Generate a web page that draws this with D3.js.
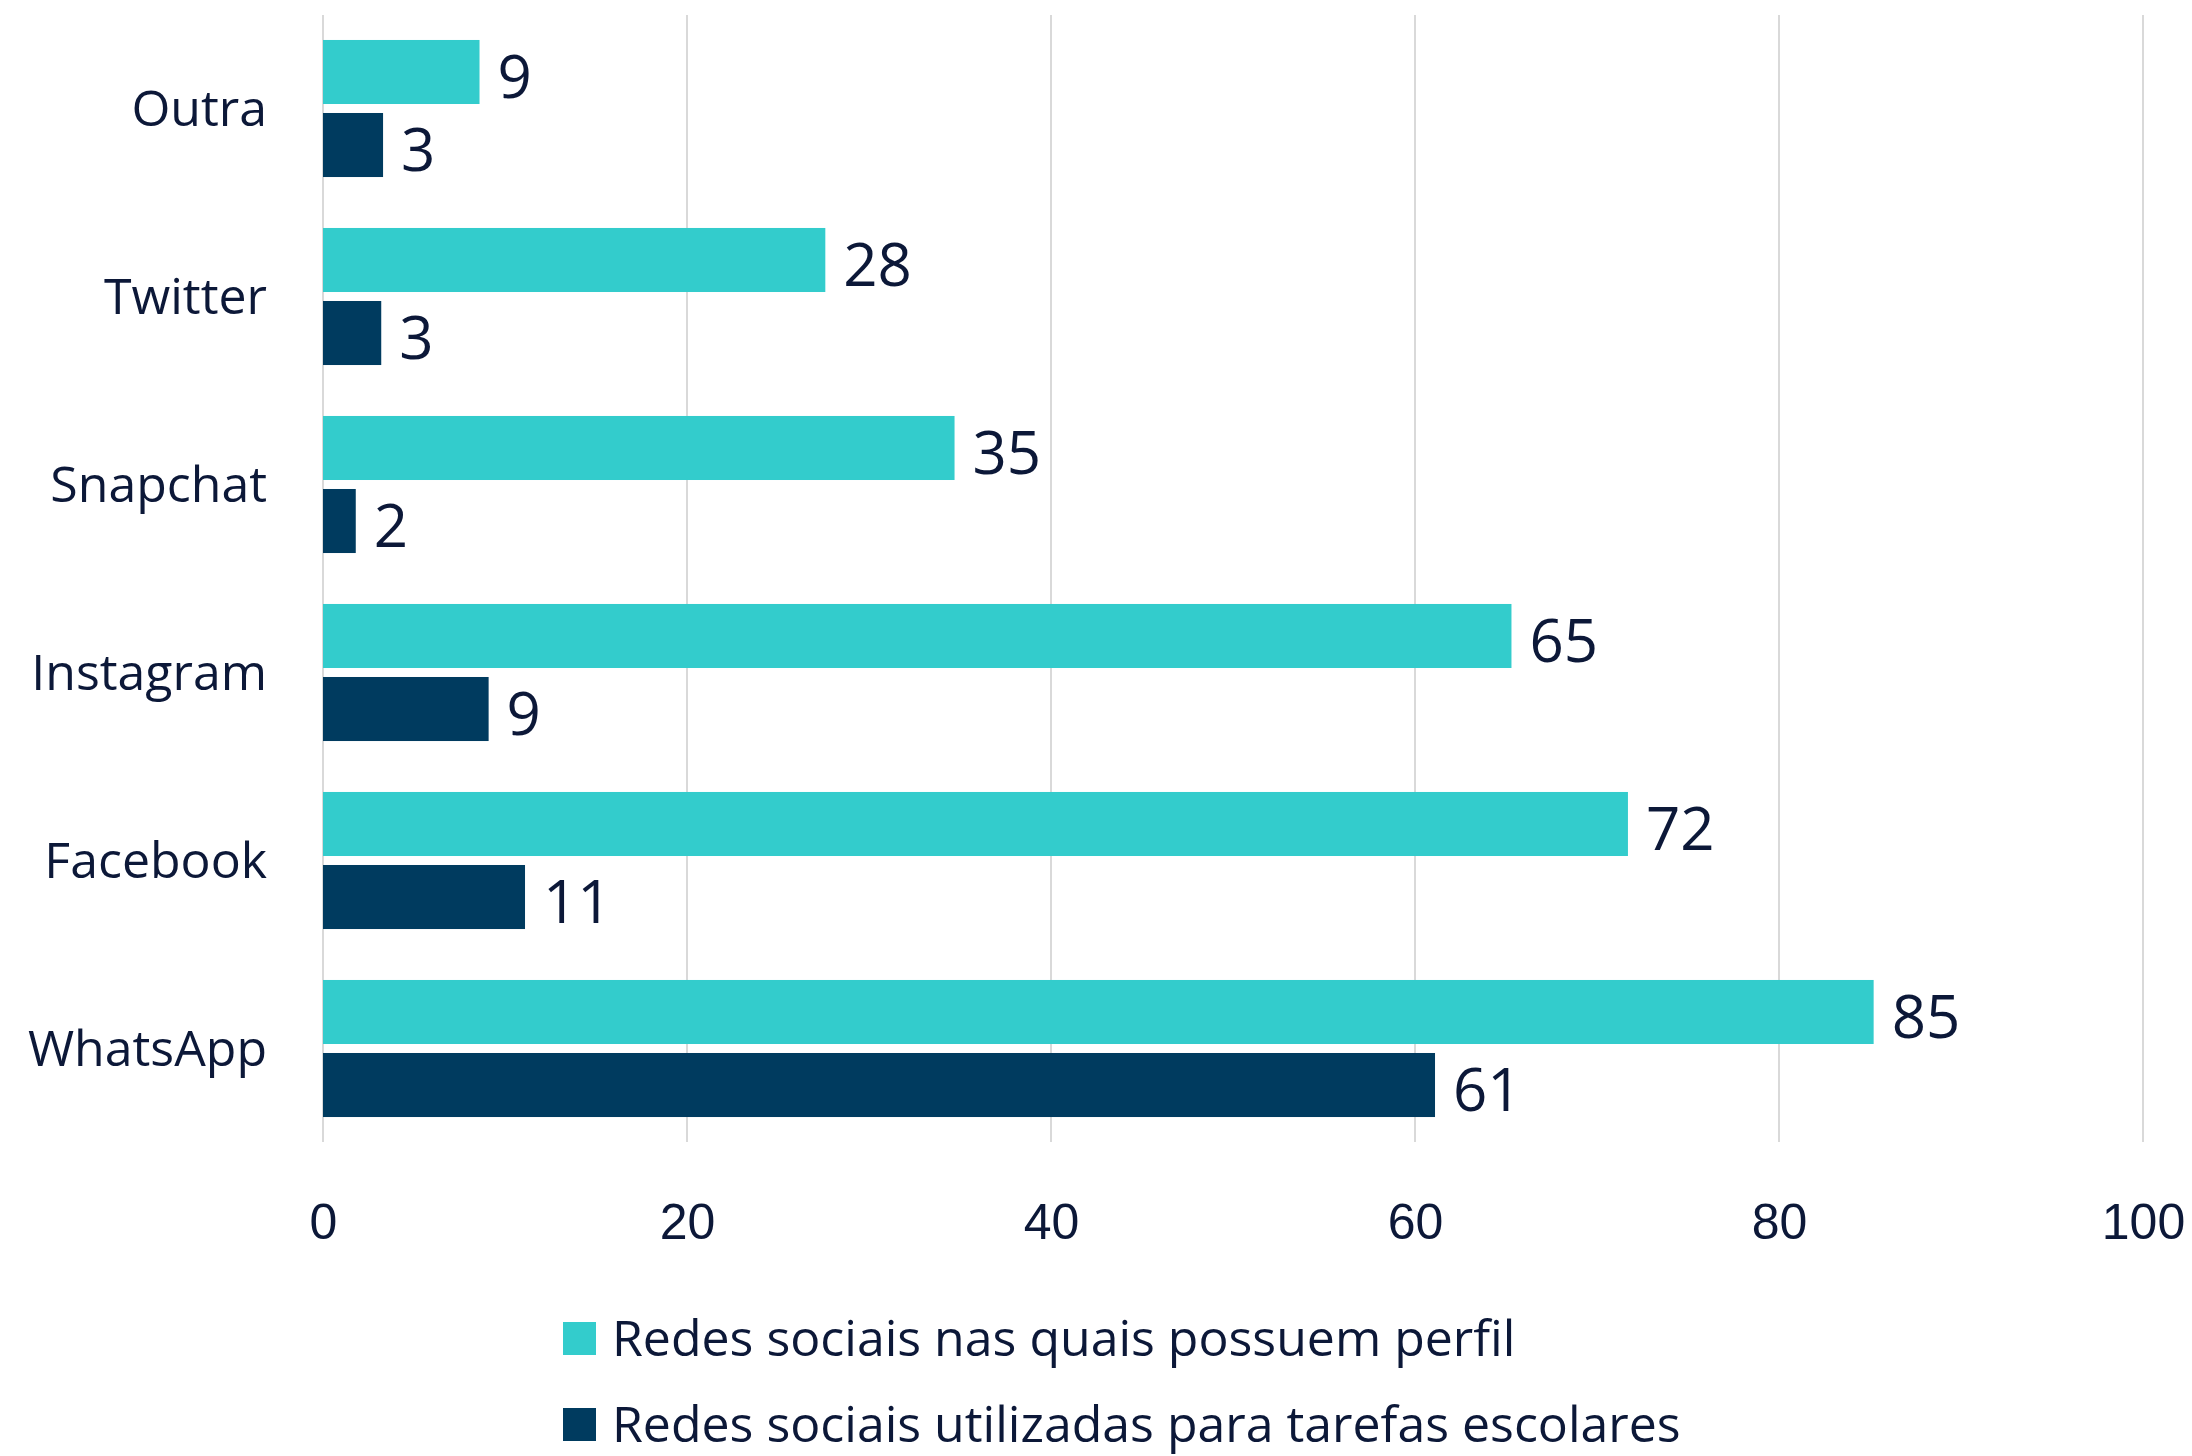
<!DOCTYPE html>
<html>
<head>
<meta charset="utf-8">
<script src="https://cdn.jsdelivr.net/npm/d3@7"></script>
<style>
  body { margin: 0; background: #fff; }
  svg { display: block; font-family: "Segoe UI", "Open Sans", sans-serif; }
</style>
</head>
<body>
<div id="vis-container"></div>
<script>
// categories top to bottom
var categories = ["Outra", "Twitter", "Snapchat", "Instagram", "Facebook", "WhatsApp"];
var seriesNames = [
  "Redes sociais nas quais possuem perfil",
  "Redes sociais utilizadas para tarefas escolares"
];
// bar lengths (labels show them rounded)
var perfil = [8.6, 27.6, 34.7, 65.3, 71.7, 85.2];
var tarefas = [3.3, 3.2, 1.8, 9.1, 11.1, 61.1];
var ticks = [0, 20, 40, 60, 80, 100];
var colors = ["#33cccc", "#003b5f"];
var textColor = "#0c1838";

var width = 2192, height = 1456;

var svg = d3.select("#vis-container").append("svg")
  .attr("width", width)
  .attr("height", height);

var x = d3.scaleLinear().domain([0, 100]).range([323, 2143]);

var y = d3.scaleBand()
  .domain(categories)
  .range([14.5, 1142.5])
  .paddingInner(0.271)
  .paddingOuter(0.1355);

var ySub = d3.scaleBand()
  .domain([0, 1])
  .range([0, y.bandwidth()])
  .paddingInner(0.123);

// gridlines
svg.append("g")
  .selectAll("line")
  .data(ticks)
  .enter()
  .append("line")
  .attr("x1", function (d) { return x(d); })
  .attr("x2", function (d) { return x(d); })
  .attr("y1", 15)
  .attr("y2", 1142)
  .attr("stroke", "#d9d9d9")
  .attr("stroke-width", 2);

// x axis tick labels
var xAxis = d3.axisBottom(x).tickValues(ticks).tickSize(0).tickPadding(0);
var gx = svg.append("g")
  .attr("transform", "translate(0,1203)")
  .call(xAxis);
gx.select(".domain").remove();
gx.selectAll("text")
  .attr("dy", "0.71em")
  .attr("fill", textColor)
  .style("font-size", "50px")
  .style("font-family", null);

// category labels
svg.append("g")
  .selectAll("text")
  .data(categories)
  .enter()
  .append("text")
  .attr("x", 267)
  .attr("y", function (d) { return y(d) + y.bandwidth() / 2; })
  .attr("dy", "0.35em")
  .attr("text-anchor", "end")
  .attr("fill", textColor)
  .style("font-size", "50px")
  .text(function (d) { return d; });

// bars
var rows = [];
categories.forEach(function (c, i) {
  rows.push({ cat: c, s: 0, v: perfil[i] });
  rows.push({ cat: c, s: 1, v: tarefas[i] });
});

svg.append("g")
  .selectAll("rect")
  .data(rows)
  .enter()
  .append("rect")
  .attr("x", x(0))
  .attr("y", function (d) { return y(d.cat) + ySub(d.s); })
  .attr("width", function (d) { return x(d.v) - x(0); })
  .attr("height", ySub.bandwidth())
  .attr("fill", function (d) { return colors[d.s]; });

// value labels, sitting a little below the bar centre like the original
svg.append("g")
  .selectAll("text")
  .data(rows)
  .enter()
  .append("text")
  .attr("x", function (d) { return x(d.v) + 18; })
  .attr("y", function (d) { return y(d.cat) + ySub(d.s) + ySub.bandwidth() / 2 + 4; })
  .attr("dy", "0.36em")
  .attr("fill", textColor)
  .style("font-size", "60px")
  .text(function (d) { return d3.format(".0f")(d.v); });

// legend
var legend = svg.append("g")
  .selectAll("g")
  .data(seriesNames)
  .enter()
  .append("g")
  .attr("transform", function (d, i) { return "translate(563," + (1322 + i * 86) + ")"; });

legend.append("rect")
  .attr("width", 33)
  .attr("height", 33)
  .attr("fill", function (d, i) { return colors[i]; });

legend.append("text")
  .attr("x", 49)
  .attr("y", 16.5)
  .attr("dy", "0.35em")
  .attr("fill", textColor)
  .style("font-size", "50px")
  .text(function (d) { return d; });
</script>
</body>
</html>
